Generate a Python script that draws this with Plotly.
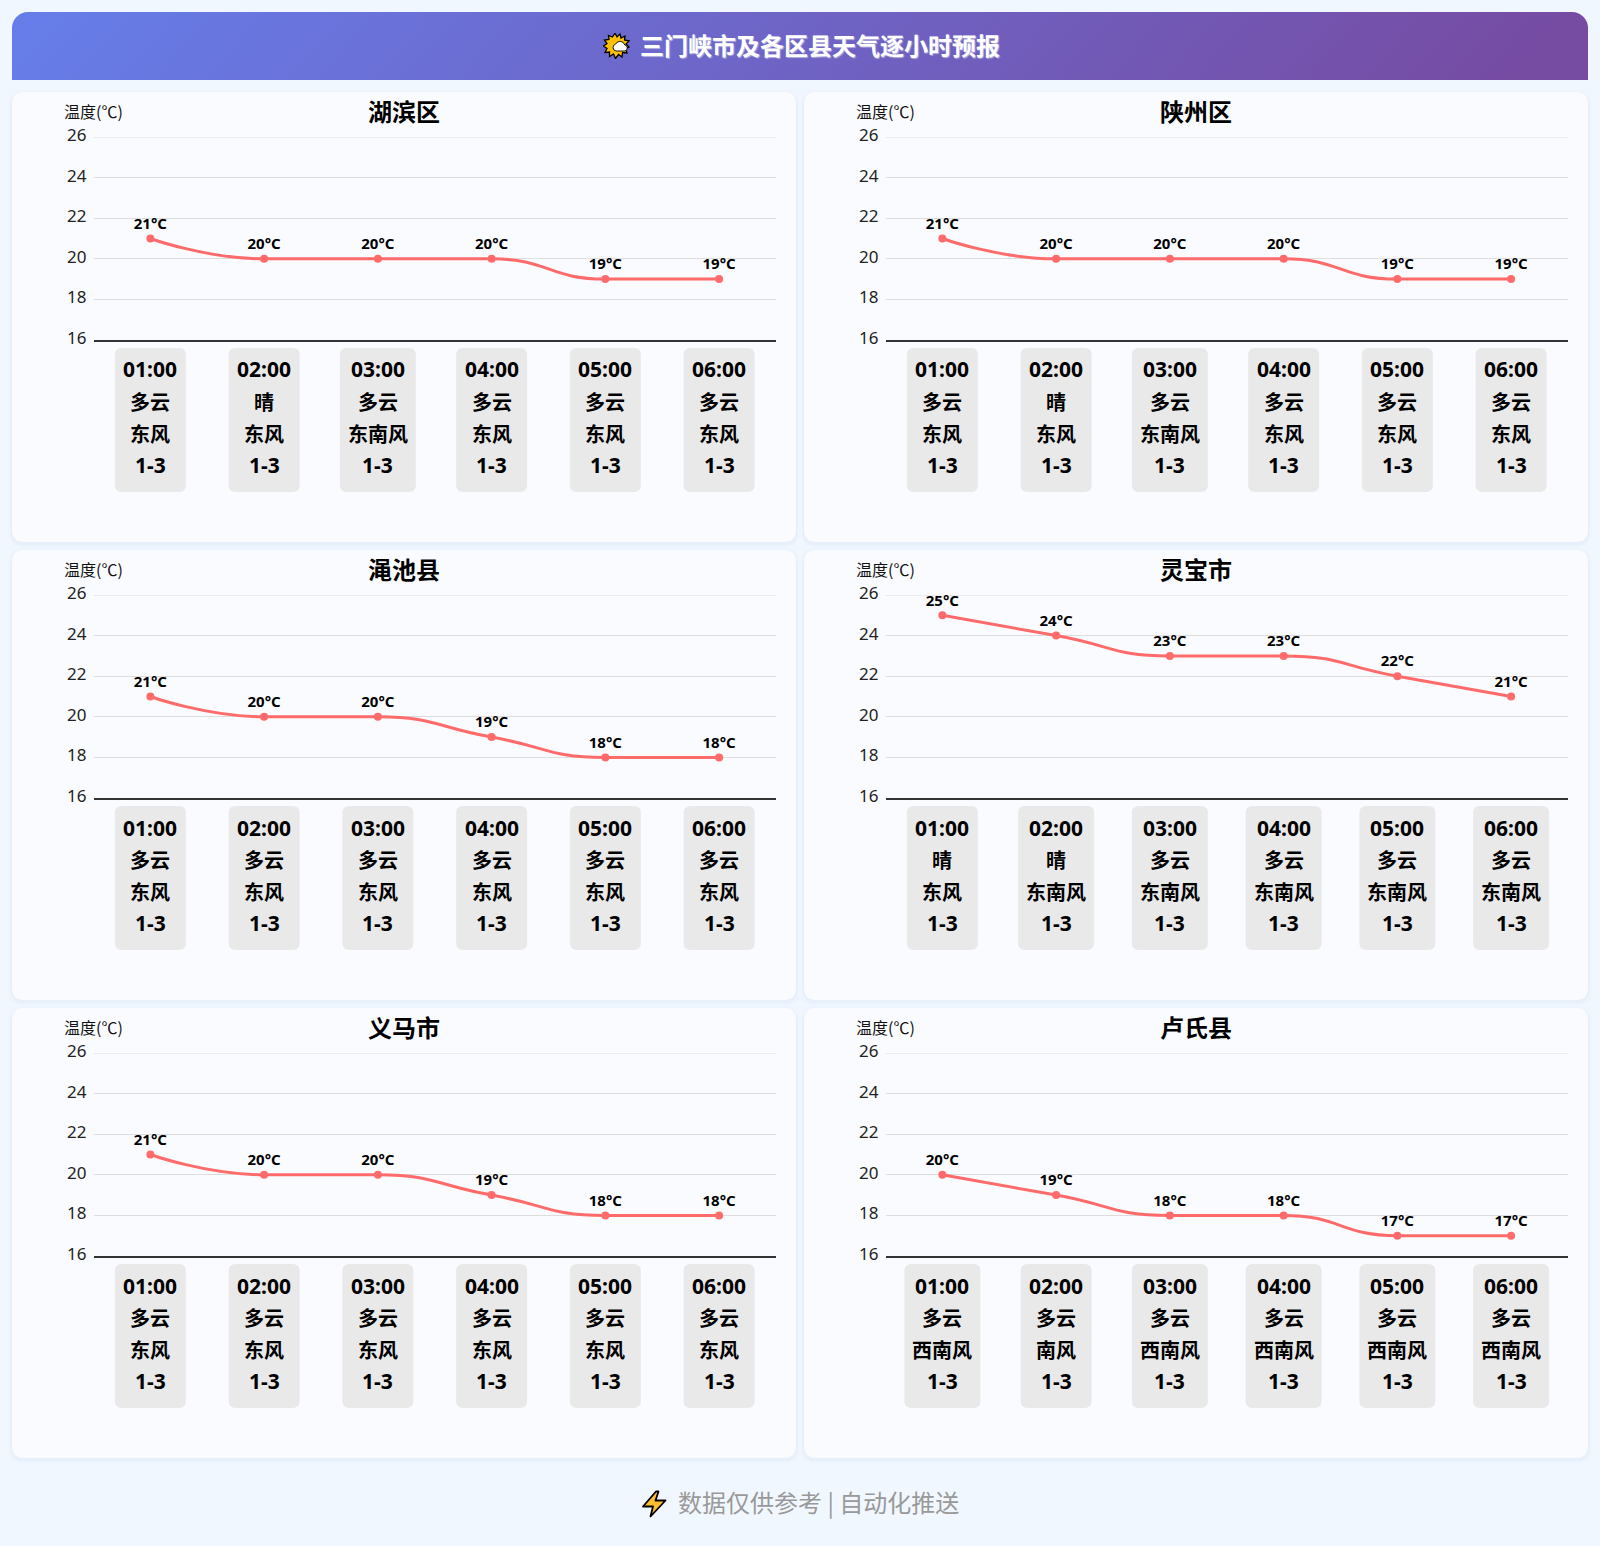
import base64
import plotly.graph_objects as go

W, H = 1600, 1546
hours = ["01:00", "02:00", "03:00", "04:00", "05:00", "06:00"]
levels = ["1-3"] * 6
names = ["湖滨区", "陕州区", "渑池县", "灵宝市", "义马市", "卢氏县"]
t_hubin = [21, 20, 20, 20, 19, 19]
t_shanzhou = [21, 20, 20, 20, 19, 19]
t_mianchi = [21, 20, 20, 19, 18, 18]
t_lingbao = [25, 24, 23, 23, 22, 21]
t_yima = [21, 20, 20, 19, 18, 18]
t_lushi = [20, 19, 18, 18, 17, 17]
w_hubin = ["多云", "晴", "多云", "多云", "多云", "多云"]
w_shanzhou = ["多云", "晴", "多云", "多云", "多云", "多云"]
w_mianchi = ["多云"] * 6
w_lingbao = ["晴", "晴", "多云", "多云", "多云", "多云"]
w_yima = ["多云"] * 6
w_lushi = ["多云"] * 6
d_hubin = ["东风", "东风", "东南风", "东风", "东风", "东风"]
d_shanzhou = ["东风", "东风", "东南风", "东风", "东风", "东风"]
d_mianchi = ["东风"] * 6
d_lingbao = ["东风", "东南风", "东南风", "东南风", "东南风", "东南风"]
d_yima = ["东风"] * 6
d_lushi = ["西南风", "南风", "西南风", "西南风", "西南风", "西南风"]
temps = [t_hubin, t_shanzhou, t_mianchi, t_lingbao, t_yima, t_lushi]
weathers = [w_hubin, w_shanzhou, w_mianchi, w_lingbao, w_yima, w_lushi]
winds = [d_hubin, d_shanzhou, d_mianchi, d_lingbao, d_yima, d_lushi]
y_ticks = [16, 18, 20, 22, 24, 26]

FONT = "Noto Sans, Noto Sans CJK SC, sans-serif"
CJK = "Noto Sans CJK SC, sans-serif"


def fx(p):
    return p / W


def fy(p):
    return 1 - p / H


def rrect(x0, y0, x1, y1, r):
    return (f"M{fx(x0+r)},{fy(y0)} L{fx(x1-r)},{fy(y0)} Q{fx(x1)},{fy(y0)} {fx(x1)},{fy(y0+r)} "
            f"L{fx(x1)},{fy(y1-r)} Q{fx(x1)},{fy(y1)} {fx(x1-r)},{fy(y1)} "
            f"L{fx(x0+r)},{fy(y1)} Q{fx(x0)},{fy(y1)} {fx(x0)},{fy(y1-r)} "
            f"L{fx(x0)},{fy(y0+r)} Q{fx(x0)},{fy(y0)} {fx(x0+r)},{fy(y0)} Z")


def svg_uri(svg):
    return "data:image/svg+xml;base64," + base64.b64encode(svg.encode()).decode()


def clamp(v, a, b):
    return max(min(a, b), min(v, max(a, b)))


def smooth_path(vals, sx=113.8, sy=20.3, smooth=0.5):
    """Smoothed line through vals (constrained so flat runs stay flat), in axis coordinates."""
    n = len(vals)
    pts = [(i * sx, v * sy) for i, v in enumerate(vals)]
    cp_in, cp_out = [None] * n, [None] * n
    cp_in[0] = pts[0]
    cp_out[0] = pts[0]
    cp_in[-1] = pts[-1]
    cp_out[-1] = pts[-1]
    for i in range(1, n - 1):
        x, y = pts[i]
        px, py = pts[i - 1]
        nx, ny = pts[i + 1]
        vx, vy = (nx - px) * smooth, (ny - py) * smooth
        lp = ((x - px) ** 2 + (y - py) ** 2) ** 0.5
        ln = ((nx - x) ** 2 + (ny - y) ** 2) ** 0.5
        ratio = ln / (ln + lp)
        ox_, oy_ = clamp(x + vx * ratio, x, nx), clamp(y + vy * ratio, y, ny)
        vx, vy = ox_ - x, oy_ - y
        ix, iy = clamp(x - vx * lp / ln, px, x), clamp(y - vy * lp / ln, py, y)
        vx, vy = x - ix, y - iy
        ox_, oy_ = x + vx * ln / lp, y + vy * ln / lp
        cp_in[i], cp_out[i] = (ix, iy), (ox_, oy_)
    d = f"M0,{vals[0]}"
    for i in range(n - 1):
        a, b, c = cp_out[i], cp_in[i + 1], pts[i + 1]
        d += (f" C{a[0]/sx:.4f},{a[1]/sy:.4f} {b[0]/sx:.4f},{b[1]/sy:.4f} {c[0]/sx:.4f},{c[1]/sy:.4f}")
    return d


fig = go.Figure()
shapes, annos, images = [], [], []
layout = {}

hdr = ('<svg xmlns="http://www.w3.org/2000/svg" width="1576" height="68" viewBox="0 0 1576 68">'
       '<defs><linearGradient id="h" x1="0" y1="0" x2="1" y2="0.04">'
       '<stop offset="0" stop-color="#667eea"/><stop offset="1" stop-color="#764ba2"/></linearGradient></defs>'
       '<path d="M0 68V16A16 16 0 0 1 16 0H1560A16 16 0 0 1 1576 16V68Z" fill="url(#h)"/></svg>')
images.append(dict(source=svg_uri(hdr), xref="paper", yref="paper", x=fx(12), y=fy(12),
                   sizex=1576 / W, sizey=68 / H, xanchor="left", yanchor="top",
                   sizing="stretch", layer="below"))
sun = ('<svg xmlns="http://www.w3.org/2000/svg" width="28" height="26" viewBox="0 0 28 26">'
       '<path d="M12 0L14 4L17 1L18 5L22 3L21.5 7L26 8L23 11L26 14L22.5 15.5L24 20L19.5 19.5L19 24L15.5 21.5L12.5 25.5L10.5 21L6.5 23.5L6.5 19L2 19.5L4 15.5L0.5 13L4 10.5L1.5 7L6 6.5L5.5 2.5L9.5 4Z" fill="#ffc107" stroke="#000" stroke-width="1.3"/>'
       '<path d="M13 18a3.5 3.5 0 0 1 -.5 -6.8a5 5 0 0 1 9.3 .8a3 3 0 0 1 2.5 3a3 3 0 0 1 -3 3Z" fill="#fff" stroke="#000" stroke-width="0.9"/></svg>')
images.append(dict(source=svg_uri(sun), xref="paper", yref="paper", x=fx(603), y=fy(33),
                   sizex=28 / W, sizey=26 / H, xanchor="left", yanchor="top",
                   sizing="stretch", layer="above"))
bolt = ('<svg xmlns="http://www.w3.org/2000/svg" width="26" height="28" viewBox="0 0 26 28">'
        '<path d="M15 1.5L2 16.5H12L9.5 26.5L24.5 10.5H14.5L17.5 1.5Z" fill="#fdbf2d" stroke="#000" stroke-width="1.8" stroke-linejoin="round"/></svg>')
images.append(dict(source=svg_uri(bolt), xref="paper", yref="paper", x=fx(641), y=fy(1490),
                   sizex=26 / W, sizey=28 / H, xanchor="left", yanchor="top",
                   sizing="stretch", layer="above"))

annos.append(dict(text="三门峡市及各区县天气逐小时预报", xref="paper", yref="paper", x=fx(820), y=fy(44.5),
                  showarrow=False, xanchor="center", yanchor="middle",
                  font=dict(family=CJK, size=24, color="#fff", weight="bold",
                            shadow="1px 1px 1px rgba(255,255,255,0.5)")))
annos.append(dict(text="数据仅供参考 | 自动化推送", xref="paper", yref="paper", x=fx(818.5), y=fy(1501),
                  showarrow=False, xanchor="center", yanchor="middle",
                  font=dict(family=CJK, size=24, color="#999999")))

for i, name in enumerate(names):
    col, row = i % 2, i // 2
    ox, oy = 792 * col, 458 * row
    for grow, op in ((4, 0.012), (2, 0.018), (1, 0.02)):
        shapes.append(dict(type="path", xref="paper", yref="paper", layer="below",
                           path=rrect(12 + ox - grow, 92 + oy - grow + 2, 796 + ox + grow, 542 + oy + grow + 2, 12 + grow),
                           fillcolor=f"rgba(60,90,150,{op})", line_width=0))
    shapes.append(dict(type="path", xref="paper", yref="paper", layer="below",
                       path=rrect(12 + ox, 92 + oy, 796 + ox, 542 + oy, 12),
                       fillcolor="#fafbfe", line_width=0))
    n = i + 1
    xa = f"x{n}" if n > 1 else "x"
    ya = f"y{n}" if n > 1 else "y"
    shapes.append(dict(type="line", xref=f"{xa} domain", yref=ya, x0=0, x1=1, y0=y_ticks[-1], y1=y_ticks[-1],
                       layer="below", line=dict(color="#dddddd", width=1)))
    shapes.append(dict(type="path", xref=xa, yref=ya, layer="between", path=smooth_path(temps[i]),
                       line=dict(color="#ff6b6b", width=3), fillcolor="rgba(0,0,0,0)"))
    fig.add_trace(go.Scatter(
        x=hours, y=temps[i], xaxis=xa, yaxis=ya, mode="markers+text",
        marker=dict(color="#ff6b6b", size=8),
        text=[f"{t}°C" for t in temps[i]], textposition="top center",
        textfont=dict(family=FONT, size=15, color="#000", weight="bold"),
        showlegend=False, cliponaxis=False, hoverinfo="skip"))
    sfx = str(n) if n > 1 else ""
    layout["xaxis" + sfx] = dict(
        domain=[fx(93.5 + ox), fx(776 + ox)], anchor=ya, type="category", automargin=False,
        categoryorder="array", categoryarray=hours, range=[-0.5, 5.5], fixedrange=True,
        showgrid=False, zeroline=False, showticklabels=False, ticks="",
        showline=True, linecolor="#333333", linewidth=2)
    layout["yaxis" + sfx] = dict(
        domain=[fy(340 + oy), fy(137 + oy)], anchor=xa, range=[16, 26], tickmode="array",
        tickvals=y_ticks, ticktext=[str(v) for v in y_ticks], fixedrange=True, automargin=False,
        showgrid=True, gridcolor="#dddddd", gridwidth=1, zeroline=False, showline=False,
        ticks="", ticklabelstandoff=6, ticklabelshift=-2,
        tickfont=dict(family=FONT, size=17, color="#222222"))
    annos.append(dict(text=name, xref="paper", yref="paper", x=fx(404 + ox), y=fy(110.5 + oy),
                      showarrow=False, xanchor="center", yanchor="middle",
                      font=dict(family=CJK, size=24, color="#000", weight="bold")))
    annos.append(dict(text="温度(℃)", xref="paper", yref="paper", x=fx(93 + ox), y=fy(111 + oy),
                      showarrow=False, xanchor="center", yanchor="middle",
                      font=dict(family=CJK, size=16, color="#111111")))
    for j, hour in enumerate(hours):
        rows = [hour, weathers[i][j], winds[i][j], levels[j]]
        wd = max(71, 16 + 20 * max(len(weathers[i][j]), len(winds[i][j])))
        a, b, r = wd / 2, 144, 7
        shapes.append(dict(
            type="path", xref=xa, yref="paper", xsizemode="pixel", ysizemode="pixel",
            xanchor=hour, yanchor=fy(348 + oy), layer="below", fillcolor="#e9e9e9", line_width=0,
            path=(f"M{-a+r},0 L{a-r},0 Q{a},0 {a},{-r} L{a},{-b+r} Q{a},{-b} {a-r},{-b} "
                  f"L{-a+r},{-b} Q{-a},{-b} {-a},{-b+r} L{-a},{-r} Q{-a},0 {-a+r},0 Z")))
        for k, s in enumerate(rows):
            annos.append(dict(text=s, xref=xa, yref="paper", x=hour, y=fy([369.5, 401.5, 433.5, 465][k] + oy),
                              showarrow=False, xanchor="center", yanchor="middle",
                              font=dict(family=FONT if k in (0, 3) else CJK, size=21 if k in (0, 3) else 20,
                                        color="#000", weight="bold")))

fig.update_layout(width=W, height=H, autosize=False, margin=dict(l=0, r=0, t=0, b=0, pad=0),
                  paper_bgcolor="#f0f7ff", plot_bgcolor="rgba(0,0,0,0)",
                  shapes=shapes, annotations=annos, images=images, showlegend=False,
                  hovermode=False, **layout)
fig.write_html("out.html", config={"displayModeBar": False, "responsive": False},
               post_script="document.body.style.margin='0';document.body.style.background='#f0f7ff';")
